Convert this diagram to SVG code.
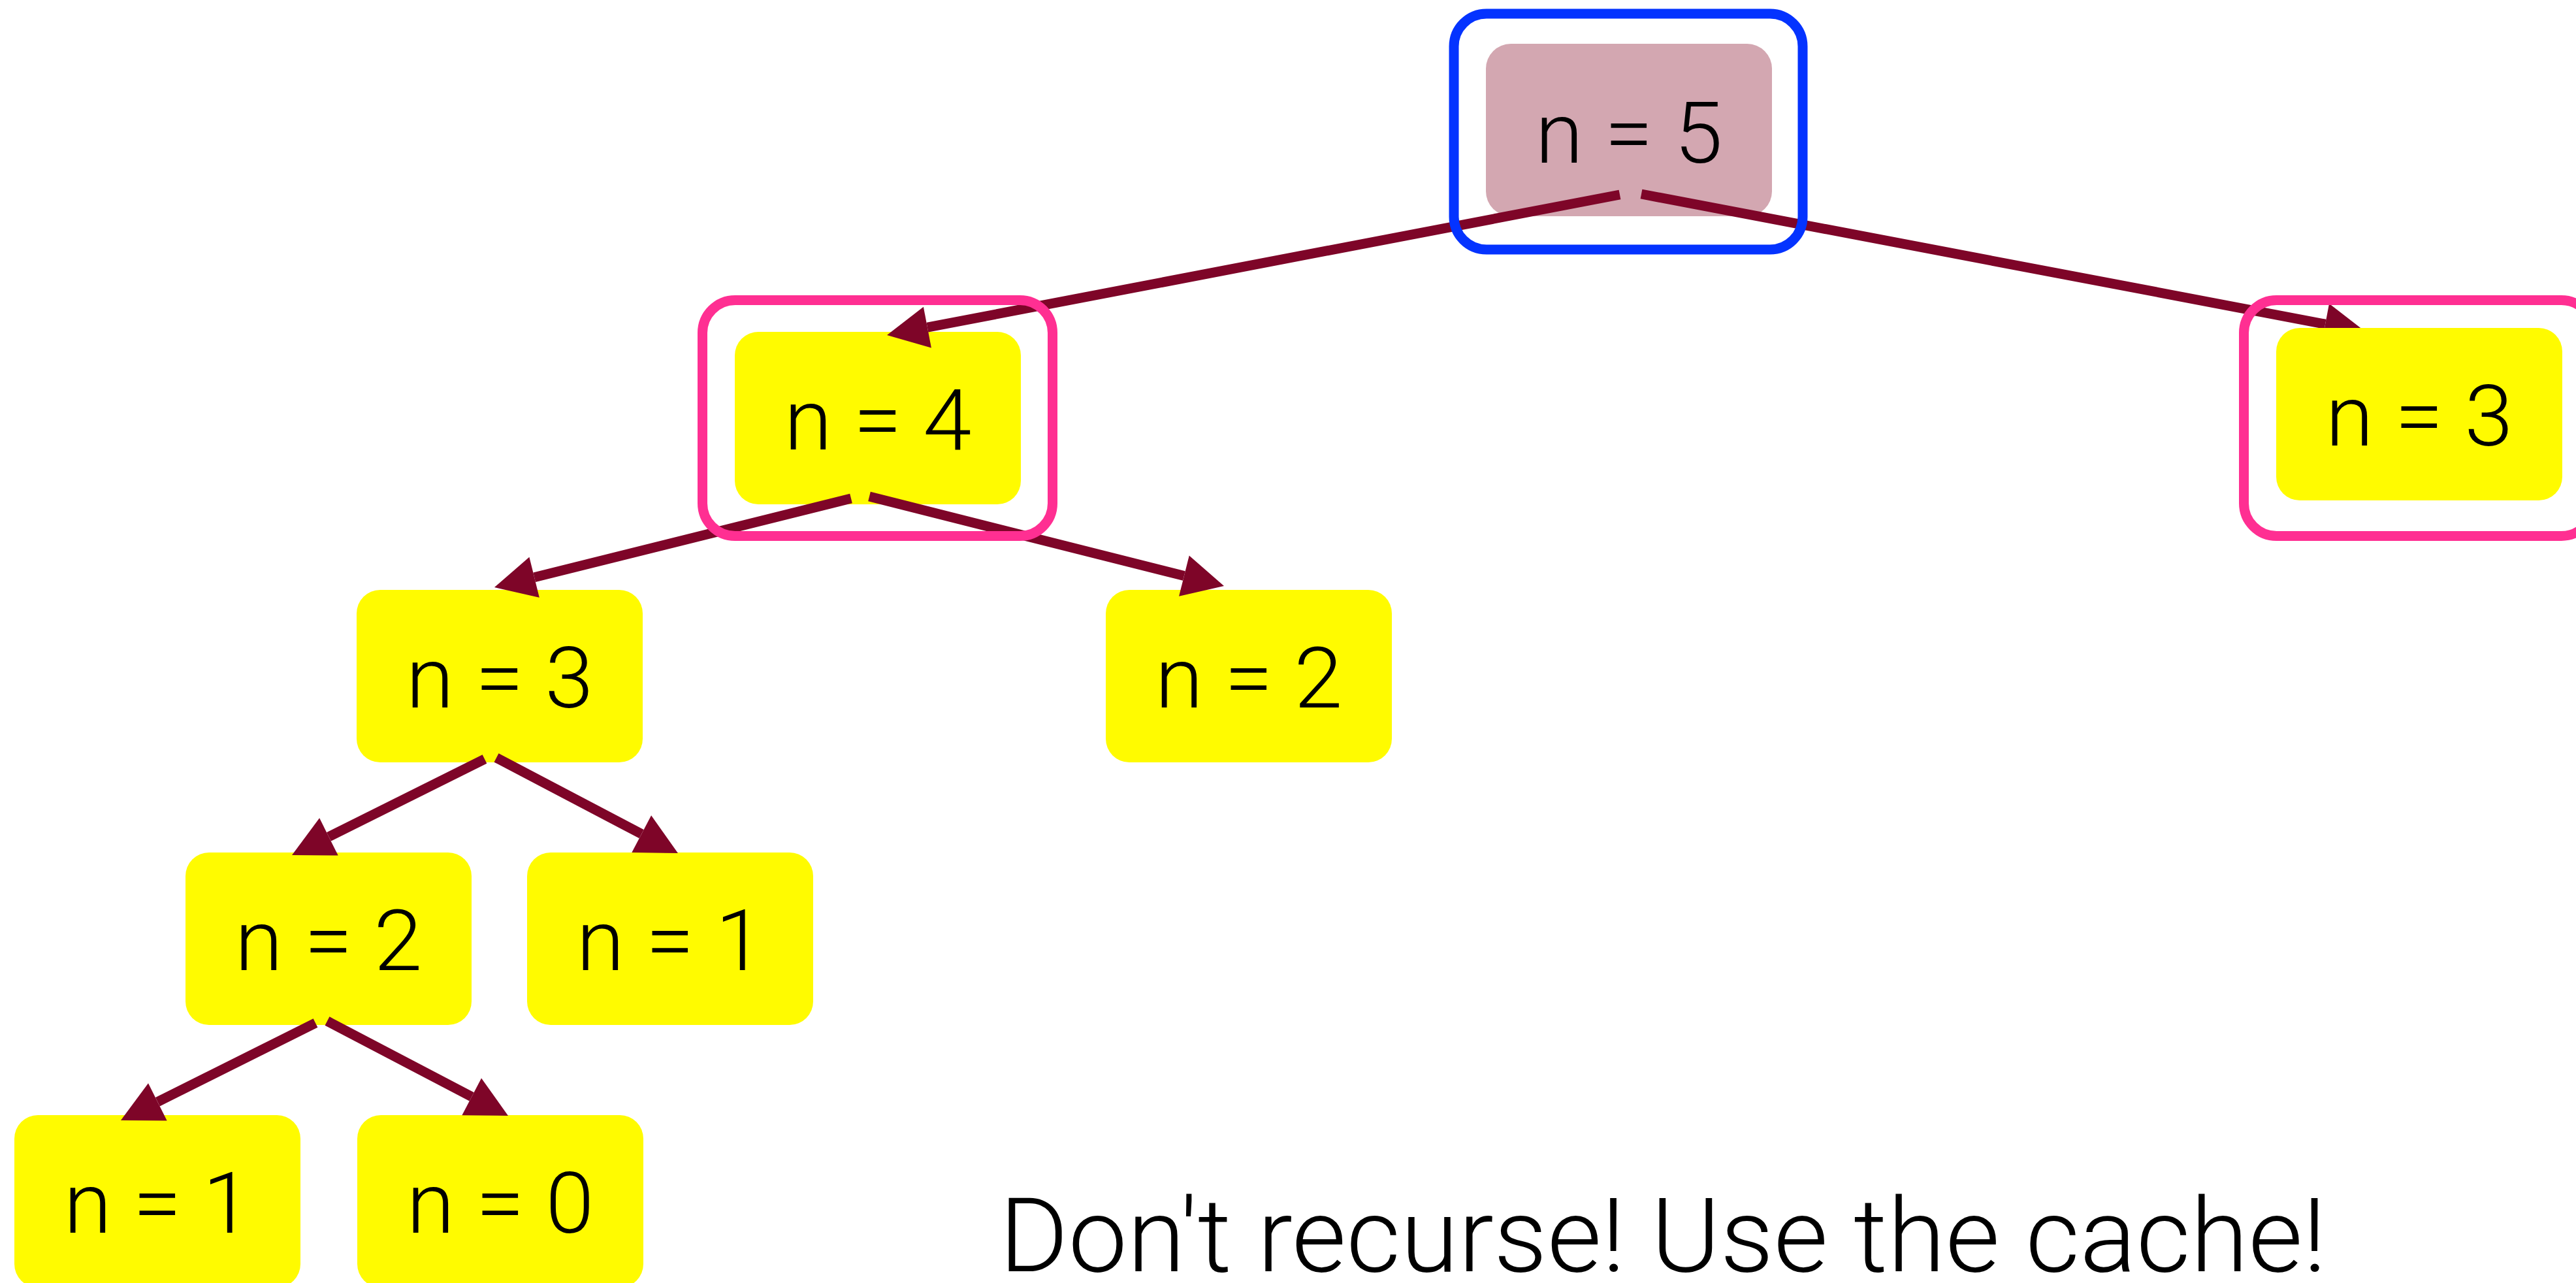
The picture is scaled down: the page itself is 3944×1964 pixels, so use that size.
<svg xmlns="http://www.w3.org/2000/svg" width="3944" height="1964" viewBox="0 0 3944 1964">
  <defs>
    <style>
      .box { fill: #FFFB00; }
      .root { fill: #D3A7B1; }
      .label { font-family: Roboto, "Liberation Sans", Arial, sans-serif; font-weight: 300; font-size: 130px; fill: #000000; text-anchor: middle; }
      .edge { stroke: #7E0528; stroke-width: 15; fill: none; stroke-linecap: butt; marker-end: url(#head); }
      .mark { fill: none; stroke-width: 15; }
      .blue { stroke: #0433FF; }
      .pink { stroke: #FF2F92; }
      .note { font-family: Roboto, "Liberation Sans", Arial, sans-serif; font-weight: 300; font-size: 158px; fill: #000000; }
    </style>
    <marker id="head" markerUnits="userSpaceOnUse" markerWidth="63" markerHeight="64" viewBox="0 0 63 64" refX="0" refY="32" orient="auto" overflow="visible">
      <path d="M0,0 L63,32 L0,64 Z" fill="#7E0528"/>
    </marker>
  </defs>
  <rect width="3944" height="1964" fill="#FFFFFF"/>

  <!-- call tree nodes drawn beneath the edges -->
  <g id="node-n5">
    <rect class="root" x="2275" y="67" width="438" height="264" rx="38"/>
    <text class="label" x="2494" y="249" textLength="287" lengthAdjust="spacingAndGlyphs">n = 5</text>
  </g>
  <g id="node-n4">
    <rect class="box" x="1125" y="508" width="438" height="264" rx="36"/>
    <text class="label" x="1344" y="688" textLength="287" lengthAdjust="spacingAndGlyphs">n = 4</text>
  </g>
  <g id="node-n3-left">
    <rect class="box" x="546" y="903" width="438" height="264" rx="36"/>
    <text class="label" x="765" y="1083" textLength="287" lengthAdjust="spacingAndGlyphs">n = 3</text>
  </g>
  <g id="node-n2-right">
    <rect class="box" x="1693" y="903" width="438" height="264" rx="36"/>
    <text class="label" x="1912" y="1083" textLength="287" lengthAdjust="spacingAndGlyphs">n = 2</text>
  </g>
  <g id="node-n2-left">
    <rect class="box" x="284" y="1305" width="438" height="264" rx="36"/>
    <text class="label" x="503" y="1485" textLength="287" lengthAdjust="spacingAndGlyphs">n = 2</text>
  </g>
  <g id="node-n1-mid">
    <rect class="box" x="807" y="1305" width="438" height="264" rx="36"/>
    <text class="label" x="1026" y="1485" textLength="287" lengthAdjust="spacingAndGlyphs">n = 1</text>
  </g>
  <g id="node-n1-bottom">
    <rect class="box" x="22" y="1707" width="438" height="264" rx="36"/>
    <text class="label" x="241" y="1887" textLength="287" lengthAdjust="spacingAndGlyphs">n = 1</text>
  </g>
  <g id="node-n0">
    <rect class="box" x="547" y="1707" width="438" height="264" rx="36"/>
    <text class="label" x="766" y="1887" textLength="287" lengthAdjust="spacingAndGlyphs">n = 0</text>
  </g>

  <!-- recursive calls -->
  <g id="connectors">
    <line class="edge" x1="2480" y1="298" x2="1419.9" y2="501.1"/>
    <line class="edge" x1="2513" y1="297" x2="3560.1" y2="496.2"/>
    <line class="edge" x1="1303" y1="763" x2="818.1" y2="883.8"/>
    <line class="edge" x1="1331" y1="760" x2="1812.9" y2="881.6"/>
    <line class="edge" x1="742" y1="1162" x2="503.4" y2="1280.9"/>
    <line class="edge" x1="760" y1="1160" x2="982.2" y2="1276.7"/>
    <line class="edge" x1="483" y1="1566" x2="241.3" y2="1686.8"/>
    <line class="edge" x1="501" y1="1563" x2="722.2" y2="1678.8"/>
  </g>

  <!-- this node sits over the tip of its incoming arrow -->
  <g id="node-n3-right">
    <rect class="box" x="3485" y="502" width="438" height="264" rx="36"/>
    <text class="label" x="3704" y="682" textLength="287" lengthAdjust="spacingAndGlyphs">n = 3</text>
  </g>

  <!-- outlines around the current call and the cached results -->
  <g id="highlights">
    <rect class="mark blue" x="2226" y="21" width="534" height="361" rx="50"/>
    <rect class="mark pink" x="1075.5" y="459.5" width="536" height="361" rx="50"/>
    <rect class="mark pink" x="3435.5" y="459.5" width="536" height="361" rx="50"/>
  </g>

  <text id="caption" class="note" x="1530" y="1946" textLength="2032" lengthAdjust="spacingAndGlyphs">Don't recurse! Use the cache!</text>
</svg>
